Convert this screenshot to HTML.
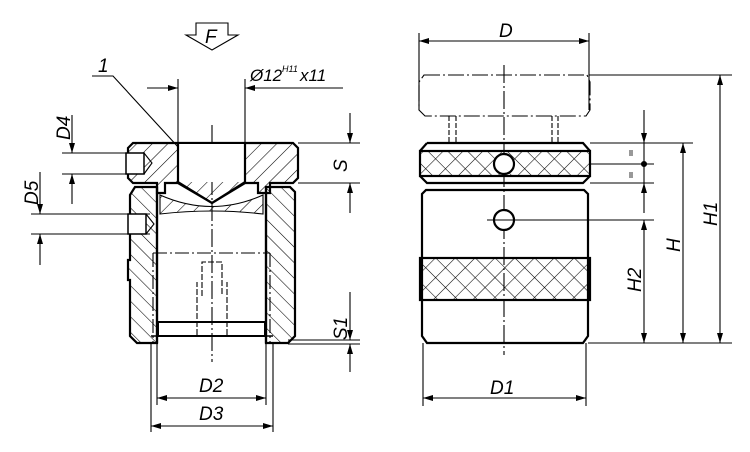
<!DOCTYPE html>
<html><head><meta charset="utf-8"><style>html,body{margin:0;padding:0;background:#fff}svg{display:block}text{font-family:"Liberation Sans",sans-serif;font-style:italic;fill:#000}</style></head><body>
<svg width="750" height="452" viewBox="0 0 750 452" xmlns="http://www.w3.org/2000/svg">
<defs>
<pattern id="h" patternUnits="userSpaceOnUse" width="11" height="11" patternTransform="rotate(45)"><line x1="0" y1="0" x2="0" y2="11" stroke="#000" stroke-width="1.1"/></pattern>
<pattern id="h2" patternUnits="userSpaceOnUse" width="11" height="11" patternTransform="rotate(-45)"><line x1="0" y1="0" x2="0" y2="11" stroke="#000" stroke-width="1.1"/></pattern>
<pattern id="k" patternUnits="userSpaceOnUse" width="14" height="14" patternTransform="rotate(45)"><line x1="0" y1="0" x2="0" y2="14" stroke="#000" stroke-width="1.1"/><line x1="0" y1="0" x2="14" y2="0" stroke="#000" stroke-width="1.1"/></pattern>
<marker id="a" viewBox="0 0 10 6" refX="10" refY="3" markerWidth="10" markerHeight="6" orient="auto-start-reverse" markerUnits="userSpaceOnUse"><path d="M0,0L10,3L0,6z" fill="#000"/></marker>
</defs>
<g fill="none" stroke="#000" stroke-width="1.1">
<path d="M196,23H228V35H238L212,50L186,35H196Z"/>
<path d="M92,76H113L190,160"/>
<line x1="147" y1="88" x2="178" y2="88" marker-end="url(#a)"/>
<line x1="343" y1="88" x2="245" y2="88" marker-end="url(#a)"/>
<line x1="178" y1="79" x2="178" y2="143"/><line x1="245" y1="79" x2="245" y2="143"/>
<line x1="212" y1="125" x2="212" y2="362" stroke-dasharray="18,3,2,3"/>
<path d="M133,143H293L298,148V178L293,183H270V193H258V183H245L212,203L178,183H165V193H157V183H133L128,178V148Z" fill="url(#h)" stroke-width="2.2"/>
<rect x="179" y="144" width="65" height="38" fill="#fff" stroke="none"/>
<path d="M178,143V182L212,203L245,182V143" stroke-width="2.2"/>
<path d="M160,195Q212,218 263,195V214Q212,208 160,214Z" fill="url(#h)"/>
<path d="M135,187H157V343H137L130,336V280H128V260H130V195Z" fill="url(#h2)" stroke-width="2.2"/>
<path d="M266,187H290L295,192V336L288,343H266Z" fill="url(#h2)" stroke-width="2.2"/>
<path d="M157,187V343M266,187V343" stroke-width="2.2"/>
<rect x="158" y="322" width="107" height="14" stroke-width="2"/>
<line x1="151" y1="336" x2="273" y2="336" stroke-width="1.5"/>
<path d="M153,253H270M153,253V343M270,253V343" stroke-dasharray="14,3,2,3"/>
<path d="M202,296V262H222V296M197,335V282M227,335V282" stroke-dasharray="6,2"/>
<rect x="126" y="153" width="18" height="21" fill="#fff" stroke-width="1.5"/><path d="M144,153L152,163L144,174"/>
<rect x="128" y="214" width="18" height="20" fill="#fff" stroke-width="1.5"/><path d="M146,214L154,224L146,234"/>
<line x1="62" y1="153" x2="140" y2="153"/><line x1="62" y1="174" x2="140" y2="174"/>
<line x1="72" y1="115" x2="72" y2="153" marker-end="url(#a)"/><line x1="72" y1="204" x2="72" y2="174" marker-end="url(#a)"/>
<line x1="31" y1="214" x2="150" y2="214"/><line x1="31" y1="234" x2="150" y2="234"/>
<line x1="40" y1="172" x2="40" y2="214" marker-end="url(#a)"/><line x1="40" y1="265" x2="40" y2="234" marker-end="url(#a)"/>
<line x1="298" y1="143" x2="360" y2="143"/><line x1="298" y1="183" x2="360" y2="183"/>
<line x1="350" y1="113" x2="350" y2="143" marker-end="url(#a)"/><line x1="350" y1="213" x2="350" y2="183" marker-end="url(#a)"/>
<line x1="288" y1="340" x2="360" y2="340"/><line x1="288" y1="344" x2="360" y2="344"/>
<line x1="350" y1="292" x2="350" y2="340" marker-end="url(#a)"/><line x1="350" y1="372" x2="350" y2="344" marker-end="url(#a)"/>
<line x1="157" y1="343" x2="157" y2="405"/><line x1="266" y1="343" x2="266" y2="405"/>
<line x1="151" y1="343" x2="151" y2="432"/><line x1="273" y1="343" x2="273" y2="432"/>
<line x1="157" y1="398" x2="266" y2="398" marker-start="url(#a)" marker-end="url(#a)"/>
<line x1="151" y1="426" x2="273" y2="426" marker-start="url(#a)" marker-end="url(#a)"/>

<line x1="419" y1="33" x2="419" y2="110"/><line x1="589" y1="33" x2="589" y2="110"/>
<line x1="419" y1="41" x2="589" y2="41" marker-start="url(#a)" marker-end="url(#a)"/>
<path d="M424,75H587L590,82V110L586,116H425L419,110V82Z" stroke-dasharray="16,3,2,3"/>
<line x1="504" y1="65" x2="504" y2="355" stroke-dasharray="18,3,2,3"/>
<path d="M449,116V143M456,116V143M552,116V143M558,116V143" stroke-dasharray="5,2"/>
<rect x="420" y="151" width="170" height="25" fill="url(#k)" stroke-width="2.2"/>
<path d="M427,143H583L590,151M420,151L427,143M420,176L427,183H583L590,176" stroke-width="2.2"/>
<circle cx="504" cy="164" r="10" fill="#fff" stroke-width="2.2"/>
<path d="M426,190H584L588,194V336L583,343H427L422,336V194Z" stroke-width="2.2"/>
<rect x="420" y="258" width="170" height="42" fill="url(#k)" stroke-width="2.2"/>
<circle cx="504" cy="220" r="10" fill="#fff" stroke-width="2.2"/>
<line x1="487" y1="220" x2="654" y2="220"/>
<line x1="589" y1="75" x2="732" y2="75"/><line x1="590" y1="143" x2="693" y2="143"/>
<line x1="588" y1="343" x2="732" y2="343"/>
<line x1="720" y1="75" x2="720" y2="343" marker-start="url(#a)" marker-end="url(#a)"/>
<line x1="683" y1="143" x2="683" y2="343" marker-start="url(#a)" marker-end="url(#a)"/>
<line x1="644" y1="220" x2="644" y2="343" marker-start="url(#a)" marker-end="url(#a)"/>
<line x1="644" y1="110" x2="644" y2="143" marker-end="url(#a)"/>
<line x1="644" y1="143" x2="644" y2="183"/>
<line x1="644" y1="213" x2="644" y2="183" marker-end="url(#a)"/>
<line x1="590" y1="164" x2="654" y2="164"/><line x1="590" y1="183" x2="654" y2="183"/>
<circle cx="644" cy="164" r="2.5" fill="#000"/>
<path d="M630,150V156M632,150V156M630,172V178M632,172V178" stroke-width="0.8"/>
<line x1="423" y1="343" x2="423" y2="406"/><line x1="586" y1="343" x2="586" y2="406"/>
<line x1="423" y1="398" x2="586" y2="398" marker-start="url(#a)" marker-end="url(#a)"/>
</g>
<g font-size="19">
<text x="205" y="43">F</text>
<text x="98" y="72">1</text>
<text x="250" y="81" font-size="17">Ø12</text><text x="282" y="72" font-size="9">H11</text><text x="300" y="81" font-size="17">x11</text>
<text transform="translate(70,140) rotate(-90)">D4</text>
<text transform="translate(38,205) rotate(-90)">D5</text>
<text transform="translate(347,172) rotate(-90)">S</text>
<text transform="translate(347,340) rotate(-90)">S1</text>
<text x="199" y="392">D2</text>
<text x="199" y="420">D3</text>
<text x="499" y="37">D</text>
<text x="490" y="394">D1</text>
<text transform="translate(717,226) rotate(-90)">H1</text>
<text transform="translate(680,252) rotate(-90)">H</text>
<text transform="translate(641,292) rotate(-90)">H2</text>
</g>
</svg>
</body></html>
